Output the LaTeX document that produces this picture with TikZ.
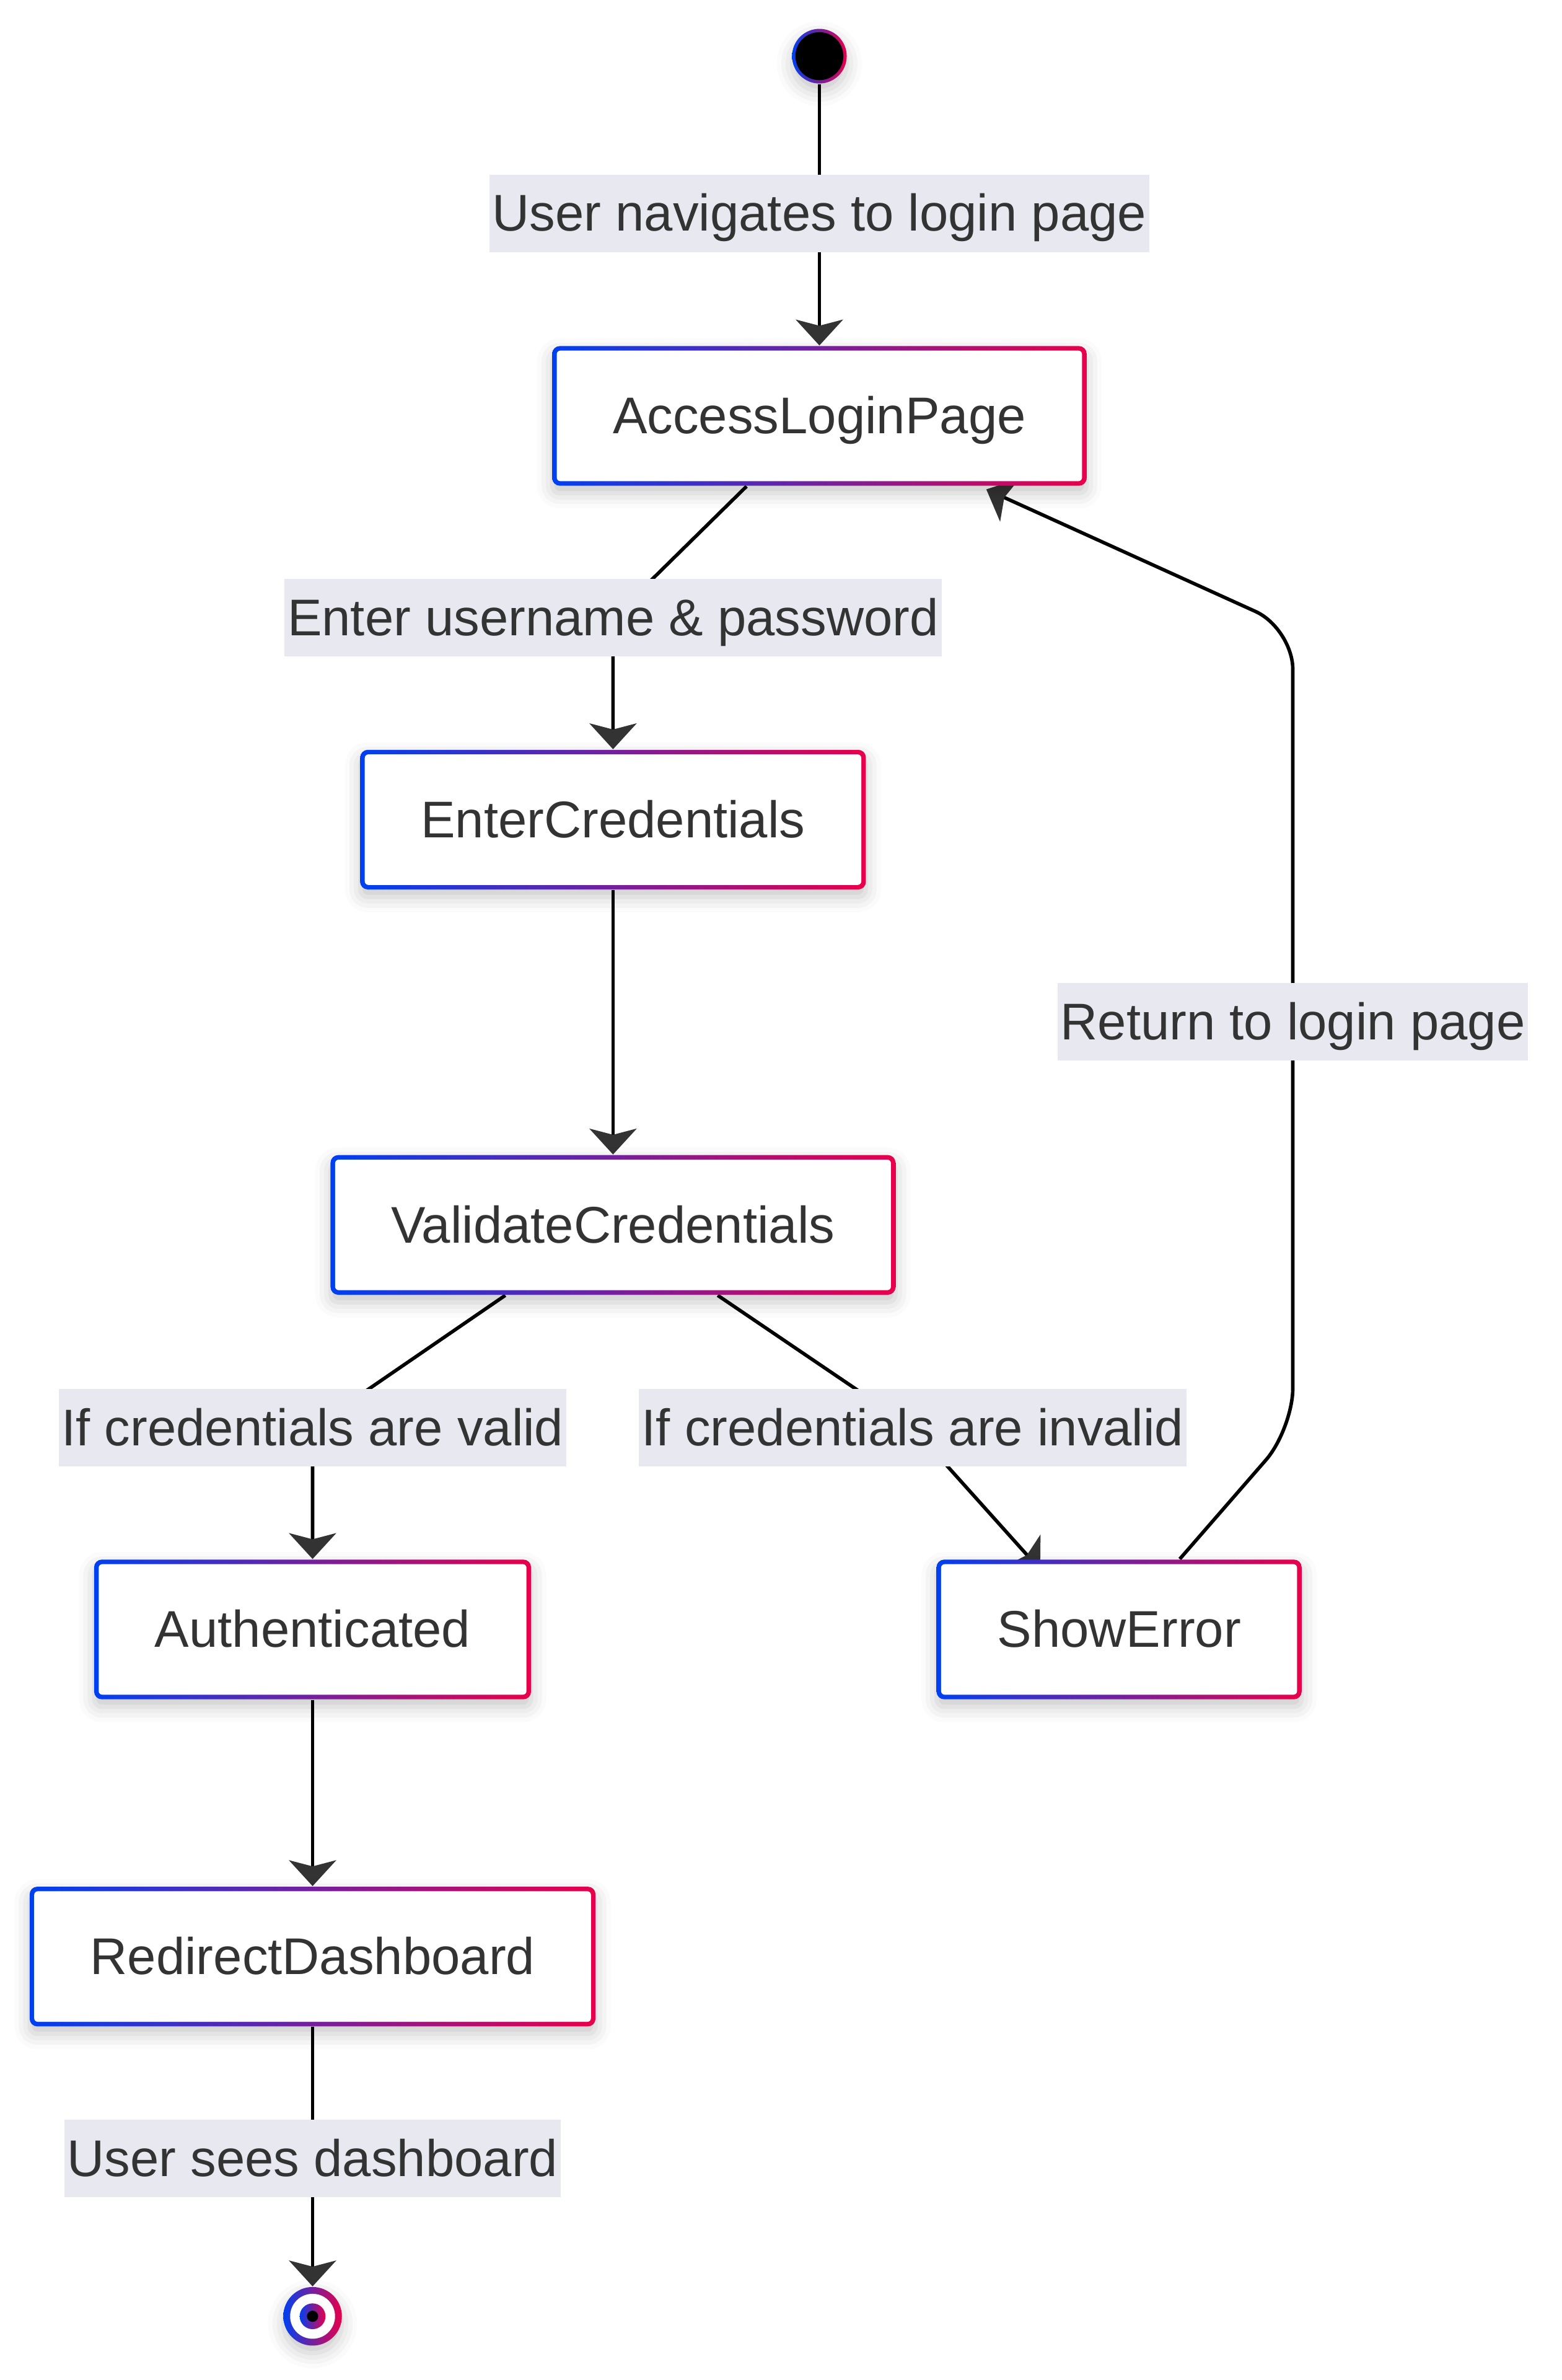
\documentclass[tikz,border=0pt]{standalone}
\usepackage{fontspec}
\setmainfont{Liberation Sans}
\usetikzlibrary{arrows.meta,shadows.blur,calc}
\definecolor{gblue}{HTML}{0040F0}
\definecolor{gred}{HTML}{E8004A}
\definecolor{txt}{HTML}{333333}
\definecolor{lbl}{HTML}{E8E8F0}
\definecolor{arr}{HTML}{333333}
\pgfdeclarelayer{edges}
\pgfsetlayers{edges,main}
\begin{document}
\begin{tikzpicture}[x=0.5pt,y=-0.5pt,
  every node/.style={font=\fontsize{17pt}{20pt}\selectfont, text=txt},
  softshadow/.style={blur shadow={shadow xshift=0pt,shadow yshift=-2.5pt,shadow blur radius=5pt,shadow opacity=22}},
  statebox/.style={rounded corners=2.5pt, minimum height=46pt, inner xsep=20pt, inner ysep=0pt,
    text height=15.4pt, text depth=3.6pt, left color=gblue, right color=gred, softshadow,
    path picture={\fill[white,rounded corners=1.2pt] ([shift={(1.5pt,-1.5pt)}]path picture bounding box.north west) rectangle ([shift={(-1.5pt,1.5pt)}]path picture bounding box.south east);}},
  startdot/.style={circle, minimum size=18pt, inner sep=0pt, left color=gblue, right color=gred, softshadow,
    path picture={\fill[black] (path picture bounding box.center) circle (7.9pt);}},
  enddot/.style={circle, minimum size=19.3pt, inner sep=0pt, left color=gblue, right color=gred, softshadow,
    path picture={\fill[white] (path picture bounding box.center) circle (7.4pt);
      \shade[left color=gblue,right color=gred] (path picture bounding box.center) circle (4.25pt);
      \fill[black] (path picture bounding box.center) circle (1.85pt);}},
  edgelabel/.style={fill=lbl, inner xsep=1pt, inner ysep=3.25pt, text height=15.4pt, text depth=3.6pt},
  conn/.style={line width=1.15pt, draw=black, -{Stealth[length=8.5pt,width=15.5pt,inset=2pt,color=arr]}}
]
\useasboundingbox (0,0) rectangle (1029,1568);

% states
\node[startdot] (start) at (540,37) {};
\node[statebox] (A) at (540,274) {AccessLoginPage};
\node[statebox] (E) at (404,540) {EnterCredentials};
\node[statebox] (V) at (404,807) {ValidateCredentials};
\node[statebox] (Au) at (206,1073.5) {Authenticated};
\node[statebox] (S) at (737.5,1073.5) {ShowError};
\node[statebox] (R) at (206,1289) {RedirectDashboard};
\node[enddot] (end) at (206,1526) {};

% labels
\node[edgelabel] (L1) at (540,140.5) {User navigates to login page};
\node[edgelabel] (L2) at (404,407) {Enter username \& password};
\node[edgelabel] (L3) at (206,940.5) {If credentials are valid};
\node[edgelabel] (L4) at (601.5,940.5) {If credentials are invalid};
\node[edgelabel] (L5) at (852,673) {Return to login page};
\node[edgelabel] (L6) at (206,1422) {User sees dashboard};

\coordinate (rb) at (852,941.5);
\coordinate (rt) at (852,414);

\begin{pgfonlayer}{edges}
\draw[conn] (start.south) -- (L1.center) -- (A.north);
\draw[conn] ([xshift=-24pt]A.south) -- (L2.center) -- (E.north);
\draw[conn] (E.south) -- (V.north);
\draw[conn] ([xshift=-35.5pt]V.south) -- (L3.center) -- (Au.north);
\draw[conn] ([xshift=34.5pt]V.south) -- (L4.center) -- ([xshift=-26pt,yshift=-3.5pt]S.north);
\draw[conn] (Au.south) -- (R.north);
\draw[conn] (R.south) -- (L6.center) -- (end.north);
\draw[conn, rounded corners=13.5pt] ([xshift=20pt]S.north) -- (rb) -- (L5.center) -- (rt) -- ([xshift=55pt,yshift=-1pt]A.south);
\end{pgfonlayer}
\end{tikzpicture}
\end{document}
